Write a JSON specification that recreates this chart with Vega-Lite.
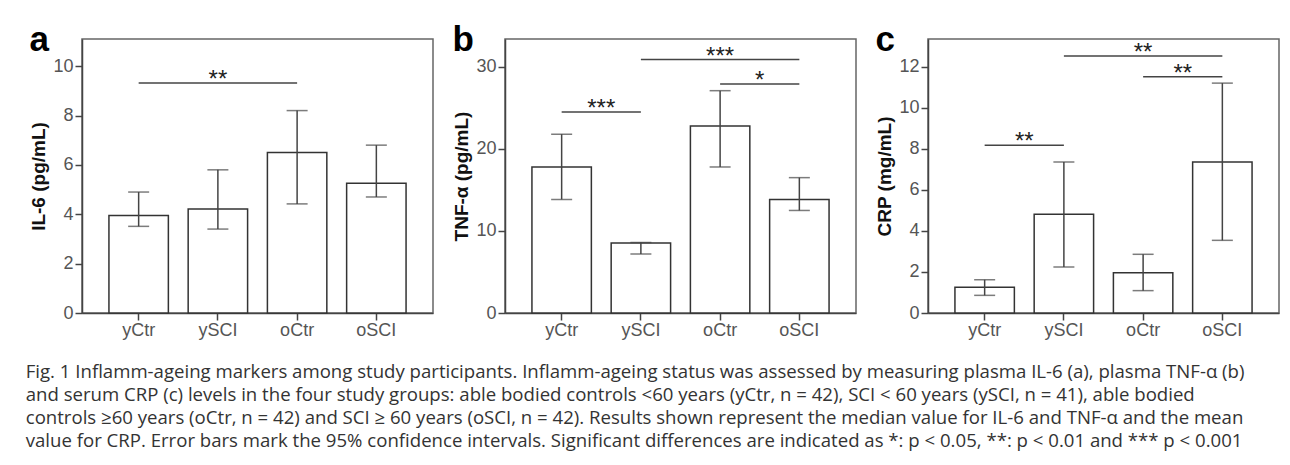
{
  "$schema": "https://vega.github.io/schema/vega-lite/v6.json",
  "background": "white",
  "padding": {"left": 25, "top": 22, "right": 5, "bottom": 5},
  "datasets": {
    "bars": [
      {"panel": "a", "group": "yCtr", "value": 3.95, "lo": 3.51, "hi": 4.9},
      {"panel": "a", "group": "ySCI", "value": 4.21, "lo": 3.4, "hi": 5.8},
      {"panel": "a", "group": "oCtr", "value": 6.5, "lo": 4.42, "hi": 8.2},
      {"panel": "a", "group": "oSCI", "value": 5.26, "lo": 4.7, "hi": 6.8},
      {"panel": "b", "group": "yCtr", "value": 17.8, "lo": 13.85, "hi": 21.8},
      {"panel": "b", "group": "ySCI", "value": 8.53, "lo": 7.19, "hi": 8.6},
      {"panel": "b", "group": "oCtr", "value": 22.8, "lo": 17.8, "hi": 27.1},
      {"panel": "b", "group": "oSCI", "value": 13.85, "lo": 12.5, "hi": 16.5},
      {"panel": "c", "group": "yCtr", "value": 1.25, "lo": 0.86, "hi": 1.62},
      {"panel": "c", "group": "ySCI", "value": 4.81, "lo": 2.24, "hi": 7.36},
      {"panel": "c", "group": "oCtr", "value": 1.96, "lo": 1.09, "hi": 2.86},
      {"panel": "c", "group": "oSCI", "value": 7.36, "lo": 3.54, "hi": 11.2}
    ],
    "sig": [
      {"panel": "a", "from": 0, "to": 2, "mid": 1, "y": 9.32, "stars": "**"},
      {"panel": "b", "from": 0, "to": 1, "mid": 0.5, "y": 24.5, "stars": "***"},
      {"panel": "b", "from": 1, "to": 3, "mid": 2, "y": 30.9, "stars": "***"},
      {"panel": "b", "from": 2, "to": 3, "mid": 2.5, "y": 27.9, "stars": "*"},
      {"panel": "c", "from": 0, "to": 1, "mid": 0.5, "y": 8.17, "stars": "**"},
      {"panel": "c", "from": 1, "to": 3, "mid": 2, "y": 12.52, "stars": "**"},
      {"panel": "c", "from": 2, "to": 3, "mid": 2.5, "y": 11.51, "stars": "**"}
    ]
  },
  "title": {
    "text": [
      "Fig. 1 Inflamm-ageing markers among study participants. Inflamm-ageing status was assessed by measuring plasma IL-6 (a), plasma TNF-α (b)",
      "and serum CRP (c) levels in the four study groups: able bodied controls <60 years (yCtr, n = 42), SCI < 60 years (ySCI, n = 41), able bodied",
      "controls ≥60 years (oCtr, n = 42) and SCI ≥ 60 years (oSCI, n = 42). Results shown represent the median value for IL-6 and TNF-α and the mean",
      "value for CRP. Error bars mark the 95% confidence intervals. Significant differences are indicated as *: p < 0.05, **: p < 0.01 and *** p < 0.001"
    ],
    "orient": "bottom",
    "anchor": "start",
    "frame": "bounds",
    "font": "Open Sans",
    "fontSize": 18.6,
    "fontWeight": "normal",
    "color": "#333",
    "lineHeight": 23,
    "baseline": "alphabetic",
    "offset": 38,
    "dx": -3
  },
  "spacing": 17,
  "hconcat": [
    {
      "width": 351, "height": 274,
      "title": {"text": "a", "anchor": "start", "frame": "bounds", "font": "Liberation Sans", "fontSize": 35, "fontWeight": "bold", "color": "#000", "baseline": "alphabetic", "offset": -47},
      "layer": [
        {
          "data": {"name": "bars"},
          "transform": [{"filter": "datum.panel === 'a'"}],
          "encoding": {
            "x": {"field": "group", "type": "nominal", "sort": ["yCtr", "ySCI", "oCtr", "oSCI"], "scale": {"paddingInner": 0.25, "paddingOuter": 0.34}, "title": null}
          },
          "layer": [
            {"mark": {"type": "bar", "fill": "white", "stroke": "#333", "strokeWidth": 1.5},
             "encoding": {"y": {"field": "value", "type": "quantitative", "scale": {"domain": [0, 11.1], "nice": false}, "title": "IL-6 (pg/mL)", "axis": {"values": [0, 2, 4, 6, 8, 10]}}}},
            {"mark": {"type": "rule", "color": "#444", "strokeWidth": 1.5},
             "encoding": {"y": {"field": "lo", "type": "quantitative", "scale": {"domain": [0, 11.1], "nice": false}, "title": "IL-6 (pg/mL)"}, "y2": {"field": "hi"}}},
            {"mark": {"type": "tick", "color": "#444", "size": 21, "thickness": 1.5},
             "encoding": {"y": {"field": "lo", "type": "quantitative", "scale": {"domain": [0, 11.1], "nice": false}, "title": "IL-6 (pg/mL)"}}},
            {"mark": {"type": "tick", "color": "#444", "size": 21, "thickness": 1.5},
             "encoding": {"y": {"field": "hi", "type": "quantitative", "scale": {"domain": [0, 11.1], "nice": false}, "title": "IL-6 (pg/mL)"}}}
          ]
        },
        {
          "data": {"name": "sig"},
          "transform": [{"filter": "datum.panel === 'a'"}],
          "layer": [
            {"mark": {"type": "rule", "color": "#444", "strokeWidth": 1.5},
             "encoding": {
               "x": {"field": "from", "type": "quantitative", "scale": {"domain": [-0.715, 3.715], "nice": false, "zero": false}, "axis": null},
               "x2": {"field": "to"},
               "y": {"field": "y", "type": "quantitative", "scale": {"domain": [0, 11.1], "nice": false}, "title": "IL-6 (pg/mL)"}}},
            {"mark": {"type": "text", "font": "Liberation Sans", "fontSize": 24, "color": "#222", "baseline": "alphabetic", "dy": 4},
             "encoding": {
               "x": {"field": "mid", "type": "quantitative", "scale": {"domain": [-0.715, 3.715], "nice": false, "zero": false}, "axis": null},
               "y": {"field": "y", "type": "quantitative", "scale": {"domain": [0, 11.1], "nice": false}, "title": "IL-6 (pg/mL)"},
               "text": {"field": "stars"}}}
          ]
        }
      ],
      "resolve": {"scale": {"x": "independent"}}
    },
    {
      "width": 351, "height": 274,
      "title": {"text": "b", "anchor": "start", "frame": "bounds", "font": "Liberation Sans", "fontSize": 35, "fontWeight": "bold", "color": "#000", "baseline": "alphabetic", "offset": -47},
      "layer": [
        {
          "data": {"name": "bars"},
          "transform": [{"filter": "datum.panel === 'b'"}],
          "encoding": {
            "x": {"field": "group", "type": "nominal", "sort": ["yCtr", "ySCI", "oCtr", "oSCI"], "scale": {"paddingInner": 0.25, "paddingOuter": 0.34}, "title": null}
          },
          "layer": [
            {"mark": {"type": "bar", "fill": "white", "stroke": "#333", "strokeWidth": 1.5},
             "encoding": {"y": {"field": "value", "type": "quantitative", "scale": {"domain": [0, 33.4], "nice": false}, "title": "TNF-α (pg/mL)", "axis": {"values": [0, 10, 20, 30]}}}},
            {"mark": {"type": "rule", "color": "#444", "strokeWidth": 1.5},
             "encoding": {"y": {"field": "lo", "type": "quantitative", "scale": {"domain": [0, 33.4], "nice": false}, "title": "TNF-α (pg/mL)"}, "y2": {"field": "hi"}}},
            {"mark": {"type": "tick", "color": "#444", "size": 21, "thickness": 1.5},
             "encoding": {"y": {"field": "lo", "type": "quantitative", "scale": {"domain": [0, 33.4], "nice": false}, "title": "TNF-α (pg/mL)"}}},
            {"mark": {"type": "tick", "color": "#444", "size": 21, "thickness": 1.5},
             "encoding": {"y": {"field": "hi", "type": "quantitative", "scale": {"domain": [0, 33.4], "nice": false}, "title": "TNF-α (pg/mL)"}}}
          ]
        },
        {
          "data": {"name": "sig"},
          "transform": [{"filter": "datum.panel === 'b'"}],
          "layer": [
            {"mark": {"type": "rule", "color": "#444", "strokeWidth": 1.5},
             "encoding": {
               "x": {"field": "from", "type": "quantitative", "scale": {"domain": [-0.715, 3.715], "nice": false, "zero": false}, "axis": null},
               "x2": {"field": "to"},
               "y": {"field": "y", "type": "quantitative", "scale": {"domain": [0, 33.4], "nice": false}, "title": "TNF-α (pg/mL)"}}},
            {"mark": {"type": "text", "font": "Liberation Sans", "fontSize": 24, "color": "#222", "baseline": "alphabetic", "dy": 4},
             "encoding": {
               "x": {"field": "mid", "type": "quantitative", "scale": {"domain": [-0.715, 3.715], "nice": false, "zero": false}, "axis": null},
               "y": {"field": "y", "type": "quantitative", "scale": {"domain": [0, 33.4], "nice": false}, "title": "TNF-α (pg/mL)"},
               "text": {"field": "stars"}}}
          ]
        }
      ],
      "resolve": {"scale": {"x": "independent"}}
    },
    {
      "width": 351, "height": 274,
      "title": {"text": "c", "anchor": "start", "frame": "bounds", "font": "Liberation Sans", "fontSize": 35, "fontWeight": "bold", "color": "#000", "baseline": "alphabetic", "offset": -47},
      "layer": [
        {
          "data": {"name": "bars"},
          "transform": [{"filter": "datum.panel === 'c'"}],
          "encoding": {
            "x": {"field": "group", "type": "nominal", "sort": ["yCtr", "ySCI", "oCtr", "oSCI"], "scale": {"paddingInner": 0.25, "paddingOuter": 0.34}, "title": null}
          },
          "layer": [
            {"mark": {"type": "bar", "fill": "white", "stroke": "#333", "strokeWidth": 1.5},
             "encoding": {"y": {"field": "value", "type": "quantitative", "scale": {"domain": [0, 13.35], "nice": false}, "title": "CRP (mg/mL)", "axis": {"values": [0, 2, 4, 6, 8, 10, 12]}}}},
            {"mark": {"type": "rule", "color": "#444", "strokeWidth": 1.5},
             "encoding": {"y": {"field": "lo", "type": "quantitative", "scale": {"domain": [0, 13.35], "nice": false}, "title": "CRP (mg/mL)"}, "y2": {"field": "hi"}}},
            {"mark": {"type": "tick", "color": "#444", "size": 21, "thickness": 1.5},
             "encoding": {"y": {"field": "lo", "type": "quantitative", "scale": {"domain": [0, 13.35], "nice": false}, "title": "CRP (mg/mL)"}}},
            {"mark": {"type": "tick", "color": "#444", "size": 21, "thickness": 1.5},
             "encoding": {"y": {"field": "hi", "type": "quantitative", "scale": {"domain": [0, 13.35], "nice": false}, "title": "CRP (mg/mL)"}}}
          ]
        },
        {
          "data": {"name": "sig"},
          "transform": [{"filter": "datum.panel === 'c'"}],
          "layer": [
            {"mark": {"type": "rule", "color": "#444", "strokeWidth": 1.5},
             "encoding": {
               "x": {"field": "from", "type": "quantitative", "scale": {"domain": [-0.715, 3.715], "nice": false, "zero": false}, "axis": null},
               "x2": {"field": "to"},
               "y": {"field": "y", "type": "quantitative", "scale": {"domain": [0, 13.35], "nice": false}, "title": "CRP (mg/mL)"}}},
            {"mark": {"type": "text", "font": "Liberation Sans", "fontSize": 24, "color": "#222", "baseline": "alphabetic", "dy": 4},
             "encoding": {
               "x": {"field": "mid", "type": "quantitative", "scale": {"domain": [-0.715, 3.715], "nice": false, "zero": false}, "axis": null},
               "y": {"field": "y", "type": "quantitative", "scale": {"domain": [0, 13.35], "nice": false}, "title": "CRP (mg/mL)"},
               "text": {"field": "stars"}}}
          ]
        }
      ],
      "resolve": {"scale": {"x": "independent"}}
    }
  ],
  "config": {
    "view": {"stroke": "#666", "strokeWidth": 1.5},
    "axis": {
      "grid": false,
      "domainColor": "#444", "domainWidth": 1.5,
      "tickColor": "#444", "tickWidth": 1.5, "tickSize": 7,
      "labelColor": "#555", "labelFont": "Liberation Sans", "labelFontSize": 18,
      "titleFont": "Liberation Sans", "titleFontSize": 19, "titleFontWeight": "bold", "titleColor": "#111"
    },
    "axisX": {"labelAngle": 0, "labelPadding": 1},
    "axisY": {"labelPadding": 2, "titlePadding": 4.5}
  }
}
